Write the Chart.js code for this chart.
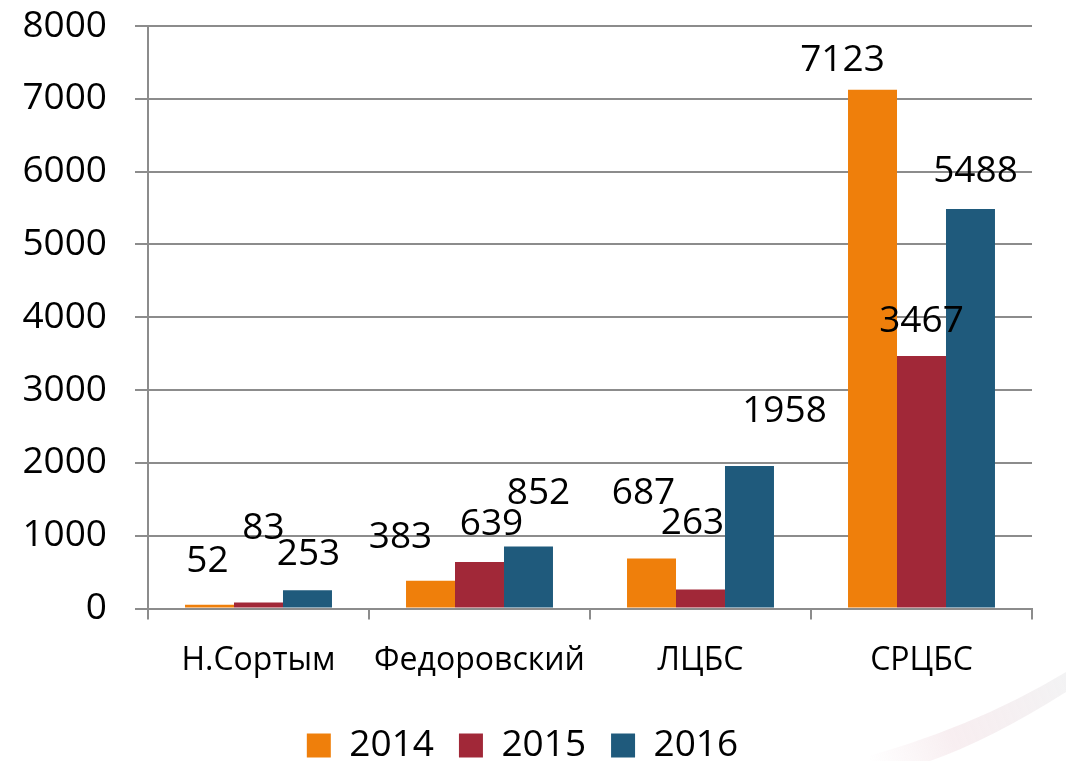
<!DOCTYPE html>
<html>
<head>
<meta charset="utf-8">
<script src="https://cdn.jsdelivr.net/npm/chart.js@4/dist/chart.umd.min.js"></script>
<style>
  html, body { margin: 0; padding: 0; background: #fff; }
  #wrap { width: 1066px; height: 761px; position: relative; }
</style>
</head>
<body>
<div id="wrap"><canvas id="barChartCanvas"></canvas></div>
<script>
const categories = ["Н.Сортым", "Федоровский", "ЛЦБС", "СРЦБС"];
const years = ["2014", "2015", "2016"];
const values2014 = [52, 383, 687, 7123];
const values2015 = [83, 639, 263, 3467];
const values2016 = [253, 852, 1958, 5488];
const yTicks = [0, 1000, 2000, 3000, 4000, 5000, 6000, 7000, 8000];
const colors = ["#EF7F0B", "#A12838", "#1F5A7C"];

// сдвиг подписей относительно вершины столбца (dx, dy) — как в исходной диаграмме
const labelShift = [
    [[-2, -43], [-30, -43], [-8, -65], [-30, -29]],
    [[5, -74], [12, -38], [-8, -66], [0, -35]],
    [[1, -36], [10, -53], [35, -55], [5, -37]],
];

const FONT = "'Open Sans', 'DejaVu Sans', sans-serif";

const valueLabels = {
    id: "valueLabels",
    afterDatasetsDraw(chart) {
        const ctx = chart.ctx;
        ctx.save();
        ctx.font = "37px " + FONT;
        ctx.fillStyle = "#000";
        ctx.textAlign = "center";
        ctx.textBaseline = "middle";
        chart.data.datasets.forEach((ds, i) => {
            chart.getDatasetMeta(i).data.forEach((bar, j) => {
                const s = labelShift[i][j];
                ctx.fillText(ds.data[j], bar.x + s[0], bar.y + s[1]);
            });
        });
        ctx.restore();
    },
};

// бледная дуга фона в правом нижнем углу
const swoosh = {
    id: "swoosh",
    beforeDraw(chart) {
        const ctx = chart.ctx;
        ctx.save();
        const g = ctx.createLinearGradient(870, 761, 1066, 680);
        g.addColorStop(0, "rgba(210,150,165,0.0)");
        g.addColorStop(0.4, "rgba(210,150,165,0.16)");
        g.addColorStop(1, "rgba(200,200,205,0.22)");
        ctx.fillStyle = g;
        ctx.beginPath();
        ctx.moveTo(850, 761);
        ctx.quadraticCurveTo(970, 730, 1066, 672);
        ctx.lineTo(1066, 692);
        ctx.quadraticCurveTo(990, 740, 930, 761);
        ctx.closePath();
        ctx.fill();
        ctx.restore();
    },
};

const ctx = document.getElementById("barChartCanvas").getContext("2d");
new Chart(ctx, {
    type: "bar",
    data: {
        labels: categories,
        datasets: [values2014, values2015, values2016].map((d, i) => ({
            label: years[i],
            data: d,
            backgroundColor: colors[i],
            categoryPercentage: 0.665,
            barPercentage: 1.0,
        })),
    },
    options: {
        responsive: true,
        maintainAspectRatio: false,
        animation: false,
        layout: { padding: { left: 13, right: 34, top: 0, bottom: -13 } },
        scales: {
            x: {
                grid: {
                    drawOnChartArea: false,
                    offset: true,
                    tickLength: 11,
                    color: "#8c8c8c",
                    lineWidth: 2,
                },
                border: { color: "#8c8c8c", width: 2 },
                ticks: {
                    color: "#000",
                    padding: 22,
                    font: { family: FONT, size: 32 },
                },
                afterFit(axis) {
                    axis.paddingLeft = 0;
                    axis.paddingRight = 0;
                },
            },
            y: {
                min: 0,
                max: 8000,
                afterBuildTicks(axis) {
                    axis.ticks = yTicks.map((v) => ({ value: v }));
                },
                grid: {
                    color: "#8c8c8c",
                    lineWidth: 2,
                    tickLength: 13,
                },
                border: { color: "#8c8c8c", width: 2 },
                ticks: {
                    color: "#000",
                    padding: 28,
                    font: { family: FONT, size: 37 },
                    callback: (v) => String(v),
                },
                afterFit(axis) {
                    axis.width = 135;
                    axis.paddingTop = 26;
                    axis.paddingBottom = 0;
                },
            },
        },
        plugins: {
            tooltip: { enabled: false },
            legend: {
                position: "bottom",
                labels: {
                    color: "#000",
                    boxWidth: 24,
                    boxHeight: 24,
                    padding: 25,
                    font: { family: FONT, size: 37 },
                },
            },
        },
    },
    plugins: [valueLabels, swoosh],
});
</script>
</body>
</html>
